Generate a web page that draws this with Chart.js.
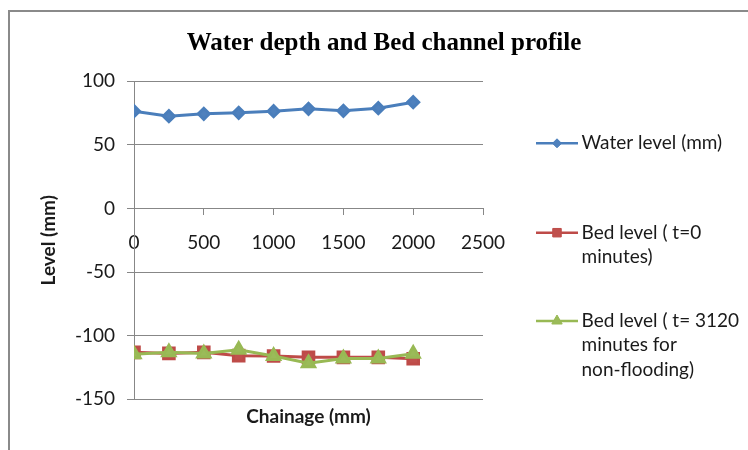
<!DOCTYPE html>
<html>
<head>
<meta charset="utf-8">
<title>Water depth and Bed channel profile</title>
<script src="https://cdn.jsdelivr.net/npm/chart.js@4/dist/chart.umd.min.js"></script>
<style>
  html, body { margin: 0; padding: 0; background: #ffffff; }
  #wrap { position: relative; width: 748px; height: 450px; }
</style>
</head>
<body>
<div id="wrap"><canvas id="chart" width="748" height="450"></canvas></div>
<script>
// Chainage along the channel (mm)
const chainage = [0, 250, 500, 750, 1000, 1250, 1500, 1750, 2000];

// Measured levels (mm)
const waterLevel = [76.5, 72.6, 74.4, 75.2, 76.5, 78.4, 76.8, 78.9, 83.6];
const bedLevelStart = [-113.1, -113.9, -113.1, -115.7, -116.0, -117.0, -117.0, -117.0, -118.1];
const bedLevelEnd = [-114.5, -113.1, -113.9, -111.0, -116.0, -121.6, -118.0, -118.0, -114.2];

// Series names
const seriesNames = [
  'Water level (mm)',
  'Bed level ( t=0 minutes)',
  'Bed level ( t= 3120 minutes for non-flooding)'
];

// Axis ranges and tick steps
const xRange = [0, 2500];
const xStep = 500;
const yRange = [-150, 100];
const yStep = 50;

const axisGray = '#878787';
const textColor = '#1a1a1a';
const bodyFont = 'Lato';

const toPoints = (xs, ys) => xs.map((x, i) => ({ x: x, y: ys[i] }));

// Frame around the chart (top and left edges)
const framePlugin = {
  id: 'frame',
  beforeDraw(chart) {
    const ctx = chart.ctx;
    ctx.save();
    ctx.strokeStyle = '#8a8a8a';
    ctx.lineWidth = 2;
    ctx.beginPath();
    ctx.moveTo(9, chart.height);
    ctx.lineTo(9, 11);
    ctx.lineTo(chart.width, 11);
    ctx.stroke();
    ctx.restore();
  }
};

// Legend on the right with wrapped entries
const sideLegendPlugin = {
  id: 'sideLegend',
  afterDraw(chart, args, opts) {
    const ctx = chart.ctx;
    const area = chart.chartArea;
    const x0 = area.right + opts.lineStart;
    const x1 = area.right + opts.lineEnd;
    const tx = area.right + opts.textStart;
    const maxW = chart.width - tx - 2;
    ctx.save();
    ctx.font = opts.fontSize + 'px ' + bodyFont;
    ctx.textBaseline = 'middle';
    ctx.textAlign = 'left';
    chart.data.datasets.forEach((ds, i) => {
      // wrap words into lines
      const words = ds.label.split(' ');
      const lines = [];
      let cur = '';
      words.forEach(w => {
        const test = cur ? cur + ' ' + w : w;
        if (cur && ctx.measureText(test).width > maxW) {
          lines.push(cur);
          cur = w;
        } else {
          cur = test;
        }
      });
      if (cur) lines.push(cur);

      const y = opts.rows[i];
      ctx.strokeStyle = ds.borderColor;
      ctx.lineWidth = 2.5;
      ctx.beginPath();
      ctx.moveTo(x0, y);
      ctx.lineTo(x1, y);
      ctx.stroke();

      ctx.fillStyle = ds.pointBackgroundColor;
      ctx.strokeStyle = ds.pointBorderColor;
      ctx.lineWidth = 1;
      Chart.helpers.drawPoint(ctx, {
        pointStyle: ds.pointStyle,
        radius: opts.markerRadius[i],
        rotation: 0,
        borderWidth: 1
      }, (x0 + x1) / 2, y);

      ctx.fillStyle = textColor;
      lines.forEach((line, k) => {
        ctx.fillText(line, tx, y + k * opts.lineHeight);
      });
    });
    ctx.restore();
  }
};

new Chart(document.getElementById('chart'), {
  type: 'line',
  data: {
    datasets: [
      {
        label: seriesNames[0],
        data: toPoints(chainage, waterLevel),
        borderColor: '#4a7ebb',
        backgroundColor: '#4f81bd',
        pointBackgroundColor: '#4f81bd',
        pointBorderColor: '#4a7ebb',
        pointStyle: 'rectRot',
        pointRadius: 5.5,
        borderWidth: 3,
        tension: 0,
        order: 2
      },
      {
        label: seriesNames[1],
        data: toPoints(chainage, bedLevelStart),
        borderColor: '#be4b48',
        backgroundColor: '#c0504d',
        pointBackgroundColor: '#c0504d',
        pointBorderColor: '#be4b48',
        pointStyle: 'rect',
        pointRadius: 7.5,
        borderWidth: 3,
        tension: 0,
        order: 1
      },
      {
        label: seriesNames[2],
        data: toPoints(chainage, bedLevelEnd),
        borderColor: '#98b954',
        backgroundColor: '#9bbb59',
        pointBackgroundColor: '#9bbb59',
        pointBorderColor: '#98b954',
        pointStyle: 'triangle',
        pointRadius: 7,
        borderWidth: 3,
        tension: 0,
        order: 0
      }
    ]
  },
  options: {
    responsive: false,
    animation: false,
    events: [],
    layout: { padding: { left: 20, right: 0, top: 0, bottom: 0 } },
    plugins: {
      legend: { display: false },
      tooltip: { enabled: false },
      title: {
        display: true,
        text: 'Water depth and Bed channel profile',
        color: '#000000',
        font: { family: "'Liberation Serif', 'Times New Roman', serif", size: 25, weight: 'bold', lineHeight: 1.2 },
        padding: { top: 28.5, bottom: 22.8 }
      },
      sideLegend: {
        lineStart: 53,
        lineEnd: 95,
        textStart: 98.5,
        fontSize: 19,
        lineHeight: 24.3,
        rows: [143.3, 232.7, 321],
        markerRadius: [4.5, 6, 6]
      }
    },
    scales: {
      x: {
        type: 'linear',
        position: { y: 0 },
        min: xRange[0],
        max: xRange[1],
        afterFit(scale) { scale.height = 0; },
        ticks: {
          stepSize: xStep,
          padding: 16.6,
          maxRotation: 0,
          autoSkip: false,
          color: textColor,
          font: { family: bodyFont, size: 19 },
          callback: v => String(v)
        },
        grid: { display: true, drawOnChartArea: false, drawTicks: true, tickLength: 6, color: axisGray },
        border: { display: true, color: axisGray, width: 1 }
      },
      x2: {
        type: 'linear',
        position: 'bottom',
        min: xRange[0],
        max: xRange[1],
        display: true,
        ticks: { display: false },
        grid: { display: false, drawTicks: false },
        border: { display: false },
        title: {
          display: true,
          text: 'Chainage (mm)',
          color: textColor,
          font: { family: bodyFont, size: 19, weight: 'bold', lineHeight: 1.2 },
          padding: { top: 6.6, bottom: 21.3 }
        }
      },
      y: {
        type: 'linear',
        position: 'left',
        min: yRange[0],
        max: yRange[1],
        afterFit(scale) { scale.width = 114; },
        ticks: {
          stepSize: yStep,
          padding: 12,
          color: textColor,
          font: { family: bodyFont, size: 19 },
          callback: v => String(v)
        },
        grid: { color: axisGray, lineWidth: 1, tickLength: 7 },
        border: { display: true, color: axisGray, width: 1 },
        title: {
          display: true,
          text: 'Level (mm)',
          color: textColor,
          font: { family: bodyFont, size: 19, weight: 'bold', lineHeight: 1.2 },
          padding: { top: 17, bottom: 0 }
        }
      },
      y2: {
        type: 'linear',
        position: 'right',
        min: yRange[0],
        max: yRange[1],
        display: true,
        afterFit(scale) { scale.width = 265; },
        ticks: { display: false },
        grid: { display: false, drawTicks: false },
        border: { display: false }
      }
    }
  },
  plugins: [framePlugin, sideLegendPlugin]
});
</script>
</body>
</html>
